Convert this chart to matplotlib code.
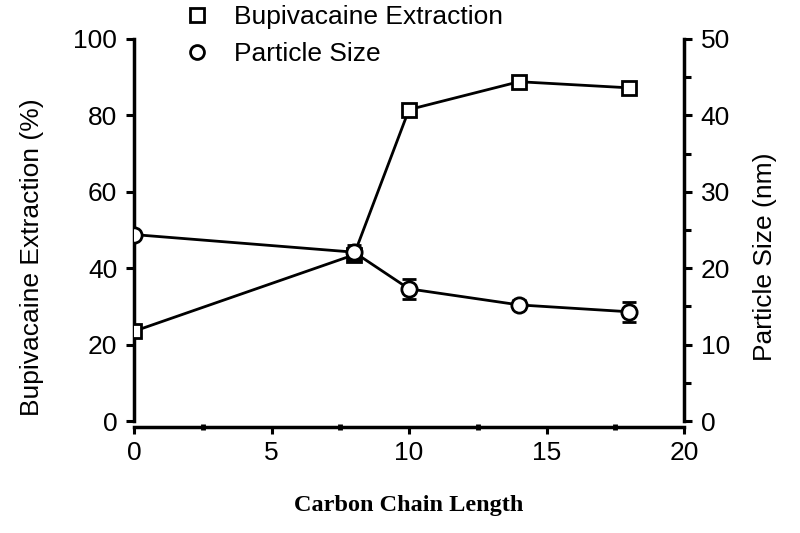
import numpy as np
import matplotlib.pyplot as plt
from matplotlib.lines import Line2D

# Data
chain_length = [0, 8, 10, 14, 18]
extraction = [23.5, 43.5, 81.5, 88.8, 87.2]
extraction_err = [0.5, 1.5, 0.8, 0.8, 0.5]
particle_size = [24.4, 22.1, 17.3, 15.2, 14.3]
size_err = [0.3, 1.0, 1.3, 0.6, 1.3]

plt.rcParams['font.family'] = ['Liberation Sans', 'DejaVu Sans']

fig = plt.figure(figsize=(8, 5.33), dpi=100)
ax = fig.add_axes([0.1675, 0.21, 0.6875, 0.717])
ax2 = ax.twinx()

lw = 2.0
ax.errorbar(chain_length, extraction, yerr=extraction_err, color='black', lw=lw,
            marker='s', ms=9.5, mfc='white', mec='black', mew=2.0,
            capsize=5, capthick=lw, elinewidth=lw, zorder=3)
ax2.errorbar(chain_length, particle_size, yerr=size_err, color='black', lw=lw,
             marker='o', ms=11, mfc='white', mec='black', mew=2.0,
             capsize=5, capthick=lw, elinewidth=lw, zorder=3)

ax.set_xlim(0, 20)
ax.set_ylim(0, 100)
ax.set_yticks(np.arange(0, 101, 20))
ax2.set_ylim(0, 50)
ax2.set_yticks(np.arange(0, 51, 10))
ax2.set_yticks(np.arange(5, 50, 10), minor=True)
ax.set_xticks(np.arange(0, 21, 5))
ax.set_xticks(np.arange(2.5, 20, 5), minor=True)

for a in (ax, ax2):
    for s in a.spines.values():
        s.set_linewidth(2.5)
    a.spines['top'].set_visible(False)
    a.spines['bottom'].set_position(('outward', 4))
ax.spines['right'].set_visible(False)
ax2.spines['left'].set_visible(False)
ax2.spines['bottom'].set_visible(False)

ax.tick_params(axis='y', direction='out', length=6, width=2.2, labelsize=19, pad=6)
ax.tick_params(axis='x', which='major', direction='out', length=5, width=2.2,
               labelsize=19, pad=5)
ax.tick_params(axis='x', which='minor', direction='inout', length=5, width=3.5)
ax2.tick_params(axis='y', which='major', direction='out', length=6, width=2.2,
                labelsize=19, pad=6)
ax2.tick_params(axis='y', which='minor', direction='out', length=5, width=2.2)

ax.set_ylabel('Bupivacaine Extraction (%)', fontsize=19)
ax2.set_ylabel('Particle Size (nm)', fontsize=19)
ax.yaxis.set_label_coords(-0.163, 0.43)
ax2.yaxis.set_label_coords(1.126, 0.43)
ax.set_xlabel('Carbon Chain Length', fontsize=17.5, fontweight='bold',
              family=['Liberation Serif', 'DejaVu Serif'], labelpad=22)

handles = [
    Line2D([], [], ls='none', marker='s', ms=9.5, mfc='white', mec='black', mew=2.0),
    Line2D([], [], ls='none', marker='o', ms=10, mfc='white', mec='black', mew=2.0),
]
fig.legend(handles, ['Bupivacaine Extraction', 'Particle Size'],
           loc='upper left', bbox_to_anchor=(0.2, 1.035), frameon=False,
           fontsize=19, handlelength=1.0, handletextpad=0.9, labelspacing=0.5)

fig.savefig('out.png', dpi=100)
